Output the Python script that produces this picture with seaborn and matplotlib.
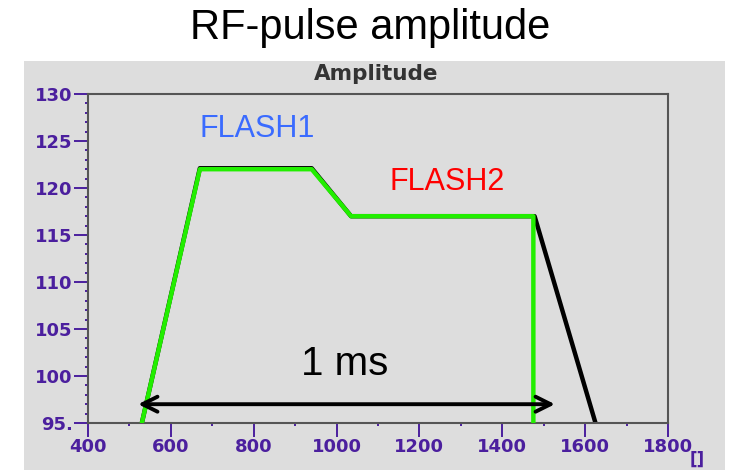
import matplotlib
matplotlib.use("Agg")
import matplotlib.pyplot as plt
from matplotlib.patches import Rectangle
from matplotlib.ticker import MultipleLocator
import seaborn as sns
import pandas as pd

# ---- data ----
green_t = [530, 670, 940, 1035, 1475, 1475]
green_amp = [95, 122, 122, 117, 117, 95]
black_t = [530, 670, 940, 1035, 1478, 1625]
black_amp = [95, 122.1, 122.1, 117, 117, 95]
x_ticks = [400, 600, 800, 1000, 1200, 1400, 1600, 1800]
y_ticks = [95, 100, 105, 110, 115, 120, 125, 130]
y_tick_labels = ["95.", "100", "105", "110", "115", "120", "125", "130"]
arrow_span = [521, 1527]
arrow_level = 97
labels = {"FLASH1": (808, 126.3, "#3a6bff"), "FLASH2": (1266, 120.6, "#ff0000")}

sns.set_theme(style="white")
plt.rcParams["font.family"] = ["Liberation Sans", "DejaVu Sans"]

fig = plt.figure(figsize=(7.3, 4.7), dpi=100)
fig.patch.set_facecolor("white")
fig.patches.append(Rectangle((24 / 730, 0), (725 - 24) / 730, (470 - 61) / 470,
                             transform=fig.transFigure, facecolor="#dddddd",
                             edgecolor="none", zorder=-10))

ax = fig.add_axes([88 / 730, (470 - 423) / 470, (668 - 88) / 730, (423 - 94) / 470])
ax.set_zorder(1)
ax.set_facecolor("#dddddd")

df_black = pd.DataFrame({"t": black_t, "amp": black_amp})
df_green = pd.DataFrame({"t": green_t, "amp": green_amp})
sns.lineplot(data=df_black, x="t", y="amp", sort=False, estimator=None, color="black",
             lw=3.2, ax=ax, zorder=2)
sns.lineplot(data=df_green, x="t", y="amp", sort=False, estimator=None, color="#22ee00",
             lw=3.2, ax=ax, zorder=3)

ax.set_xlim(400, 1800)
ax.set_ylim(95, 130)
ax.set_xlabel("")
ax.set_ylabel("")

purple = "#4b1f9e"
ax.set_xticks(x_ticks)
ax.set_yticks(y_ticks)
ax.set_yticklabels(y_tick_labels)
ax.xaxis.set_minor_locator(MultipleLocator(100))
ax.yaxis.set_minor_locator(MultipleLocator(1))
ax.tick_params(axis="both", which="major", direction="out", length=10, width=1.4,
               color=purple, labelcolor=purple, labelsize=13, pad=1,
               bottom=True, left=True)
ax.tick_params(axis="both", which="minor", direction="out", length=2.5, width=1.4,
               color=purple, bottom=True, left=True)
for lab in ax.get_xticklabels() + ax.get_yticklabels():
    lab.set_fontfamily("DejaVu Sans")
    lab.set_fontweight("bold")

for s in ax.spines.values():
    s.set_color("#555555")
    s.set_linewidth(1.5)

# arrow
ax.annotate("", xy=(arrow_span[0], arrow_level), xytext=(arrow_span[1], arrow_level),
            arrowprops=dict(arrowstyle="<->,head_length=0.9,head_width=0.45",
                            color="black", lw=2.8, shrinkA=0, shrinkB=0), zorder=4)
ax.text(1020, 101.3, "1 ms", ha="center", va="center", fontsize=29, color="black")

for name, (x, y, c) in labels.items():
    ax.text(x, y, name, ha="center", va="center", fontsize=22, color=c)

fig.text(376 / 730, (470 - 74) / 470, "Amplitude", ha="center", va="center",
         fontsize=15.5, fontweight="bold", color="#333333", family="DejaVu Sans")
fig.text(370 / 730, (470 - 28) / 470, "RF-pulse amplitude", ha="center", va="center",
         fontsize=30, color="black")
fig.text(697 / 730, (470 - 460) / 470, "[]", ha="center", va="center",
         fontsize=12, fontweight="bold", color=purple, family="DejaVu Sans")

fig.savefig("out.png", dpi=100)
